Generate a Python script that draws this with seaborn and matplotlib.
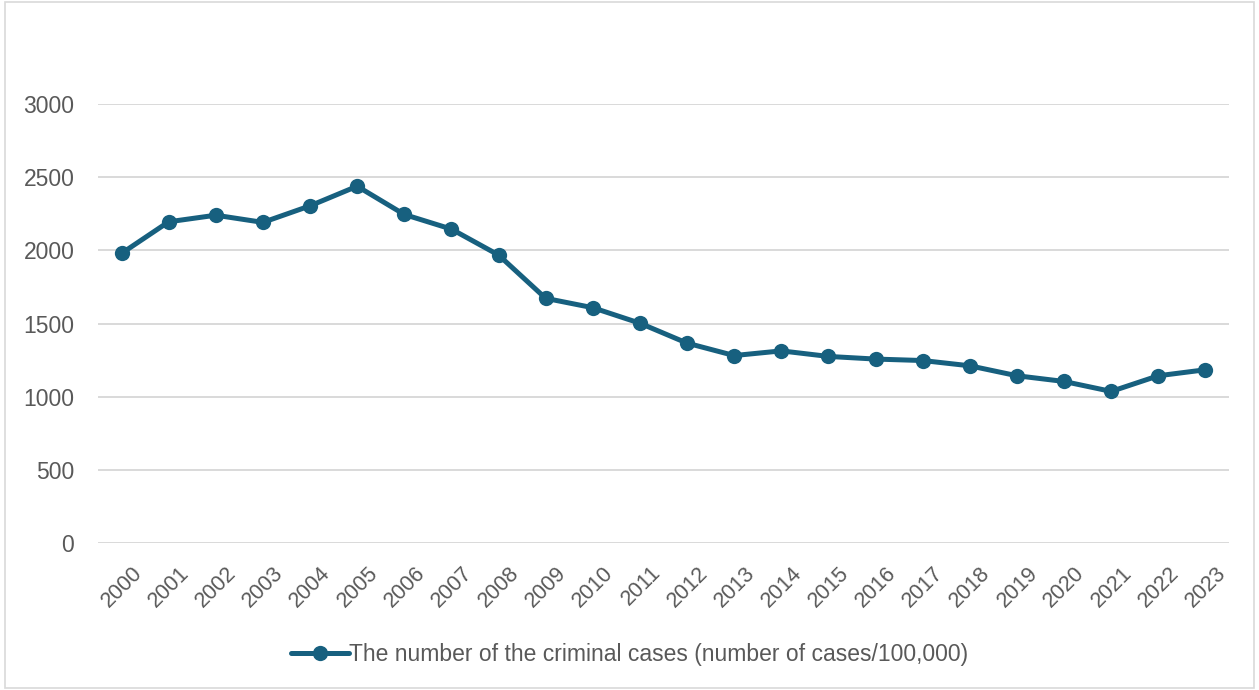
import matplotlib
matplotlib.use("Agg")
import matplotlib.pyplot as plt
import matplotlib.transforms as mtransforms
import seaborn as sns
import pandas as pd
from matplotlib.patches import Rectangle

years = [str(y) for y in range(2000, 2024)]
cases = [1979, 2195, 2240, 2191, 2304, 2438, 2245, 2145, 1968, 1672, 1608, 1502,
         1366, 1281, 1313, 1275, 1257, 1247, 1211, 1143, 1104, 1036, 1143, 1184]
series_name = "The number of the criminal cases (number of cases/100,000)"
y_ticks = [0, 500, 1000, 1500, 2000, 2500, 3000]

sns.set_theme(style="white")
plt.rcParams["font.family"] = ["Liberation Sans", "DejaVu Sans"]

df = pd.DataFrame({"year": years, "cases": cases, "series": series_name})

fig = plt.figure(figsize=(12.59, 6.9), dpi=100)
ax = fig.add_axes([0.0778, 0.2130, 0.8984, 0.6363])

line_color = "#17607f"
sns.lineplot(data=df, x="year", y="cases", hue="series", palette=[line_color],
             marker="o", markersize=11, markeredgewidth=0, linewidth=3.6,
             sort=False, ax=ax)

ax.set_xlim(-0.5, len(years) - 0.5)
ax.set_ylim(0, 3000)
ax.set_yticks(y_ticks)
ax.set_yticklabels([str(t) for t in y_ticks])
ax.yaxis.grid(True, color="#d9d9d9", linewidth=1.4)
ax.set_axisbelow(True)
for s in ax.spines.values():
    s.set_visible(False)
ax.set_xlabel("")
ax.set_ylabel("")

text_color = "#595959"
ax.tick_params(axis="y", length=0, pad=17, labelsize=16.5, labelcolor=text_color)
ax.tick_params(axis="x", length=0, pad=14, labelsize=15.5, labelcolor=text_color)
shift = mtransforms.ScaledTranslation(10 / 100, 0, fig.dpi_scale_trans)
for lbl in ax.get_xticklabels():
    lbl.set_rotation(45)
    lbl.set_ha("right")
    lbl.set_rotation_mode("anchor")
    lbl.set_transform(lbl.get_transform() + shift)

handles, labels = ax.get_legend_handles_labels()
ax.legend(handles=handles, labels=labels, loc="center",
          bbox_to_anchor=(0.5, 0.052), bbox_transform=fig.transFigure,
          frameon=False, fontsize=16.5, handlelength=2.5, handletextpad=0.0,
          labelcolor=text_color)

fig.patches.append(Rectangle((0.004, 0.003), 0.992, 0.994, transform=fig.transFigure,
                             fill=False, edgecolor="#d9d9d9", linewidth=1.2))

fig.savefig("out.png", dpi=100, facecolor="white")
